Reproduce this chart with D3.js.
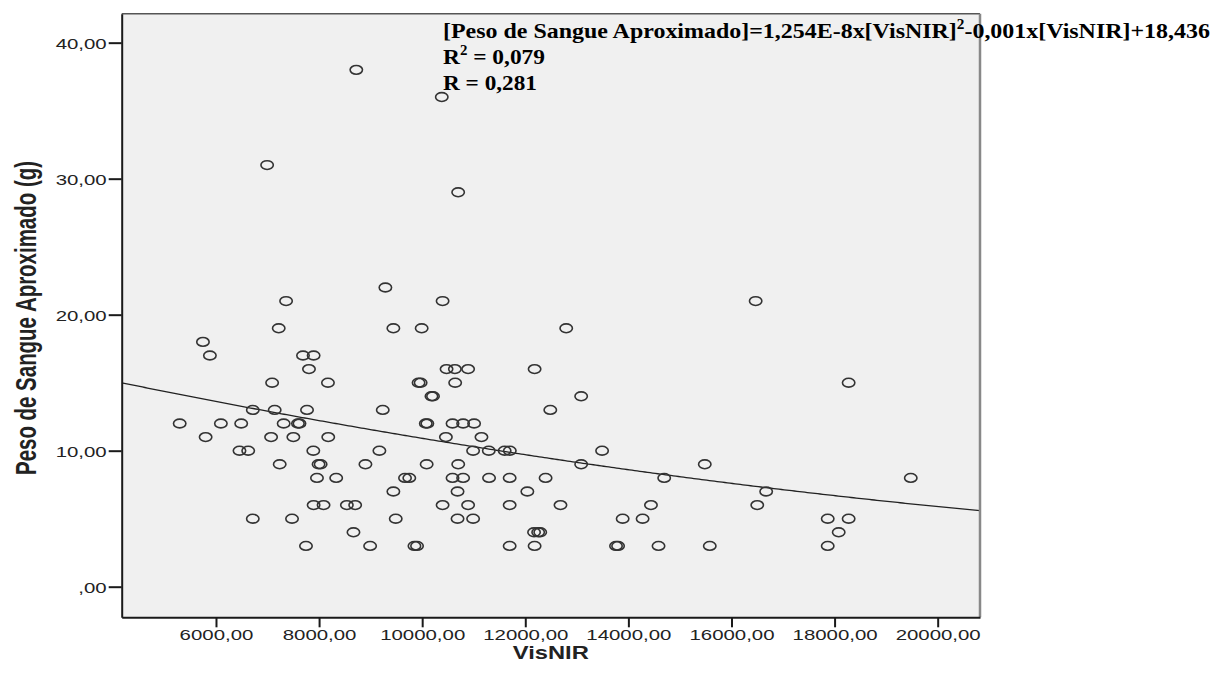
<!DOCTYPE html>
<html>
<head>
<meta charset="utf-8">
<script src="https://cdn.jsdelivr.net/npm/d3@7.9.0/dist/d3.min.js"></script>
<style>
  body { margin: 0; background: #fff; }
  svg { display: block; }
</style>
</head>
<body>
<svg id="chart" width="1217" height="677"></svg>
<script>
// VisNIR value of each sample (x)
const visNIR = [
  8722, 10380, 6992, 10698, 9286,
  7360, 10396, 16469,
  7217, 9441, 9990, 12794,
  5747,
  5882, 7688, 7894,
  7804, 10473, 10634, 10891, 12181,
  7089, 8172, 9930, 9970, 10640, 18273,
  10180, 10210, 13084,
  6714, 7139, 7766, 9235, 12485,
  5296, 6095, 6489, 7313, 7590, 7620, 10070, 10100, 10589, 10794, 11007,
  5799, 7069, 7501, 8178, 10460, 11150,
  6456, 6625, 7888, 9170, 10988, 11292, 11600, 11700, 13490,
  7236, 7990, 8030, 8899, 10087, 10699, 13084, 15482,
  7959, 8332, 9667, 9750, 10589, 10794, 11297, 11697, 12394, 14695, 19478,
  9441, 10686, 12040, 16673,
  7894, 8087, 8539, 8700, 10396, 10891, 11697, 12683, 14438, 16500,
  6714, 7475, 9487, 10686, 10988, 13889, 14276, 17867, 18273,
  8667, 12170, 12250, 12290, 18080,
  7746, 8990, 9850, 9900, 11697, 12181, 13760, 13800, 14585, 15579, 17867
];
// matching blood weight (g)
const pesoSangue = [
  38, 36, 31, 29, 22,
  21, 21, 21,
  19, 19, 19, 19,
  18,
  17, 17, 17,
  16, 16, 16, 16, 16,
  15, 15, 15, 15, 15, 15,
  14, 14, 14,
  13, 13, 13, 13, 13,
  12, 12, 12, 12, 12, 12, 12, 12, 12, 12, 12,
  11, 11, 11, 11, 11, 11,
  10, 10, 10, 10, 10, 10, 10, 10, 10,
  9, 9, 9, 9, 9, 9, 9, 9,
  8, 8, 8, 8, 8, 8, 8, 8, 8, 8, 8,
  7, 7, 7, 7,
  6, 6, 6, 6, 6, 6, 6, 6, 6, 6,
  5, 5, 5, 5, 5, 5, 5, 5, 5,
  4, 4, 4, 4, 4,
  3, 3, 3, 3, 3, 3, 3, 3, 3, 3, 3
];

const xTicks = [6000, 8000, 10000, 12000, 14000, 16000, 18000, 20000];
const yTicks = [0, 10, 20, 30, 40];
// quadratic fit: c + b*x + a*x^2
const fitCoef = [18.436, -0.000878, 1.254e-8];

const svg = d3.select('#chart');
const plot = { left: 121.7, right: 980, top: 13.7, bottom: 617.3 };

const x = d3.scaleLinear().domain([4171, 20821]).range([plot.left, plot.right]);
const y = d3.scaleLinear().domain([-2.25, 42.13]).range([plot.bottom, plot.top]);

const fmt = d => d === 0 ? ',00' : d3.format('.2f')(d).replace('.', ',');

// background
svg.append('rect')
  .attr('x', plot.left).attr('y', plot.top)
  .attr('width', plot.right - plot.left).attr('height', plot.bottom - plot.top)
  .attr('fill', '#f0f0f0');

svg.append('clipPath').attr('id', 'clip')
  .append('rect')
  .attr('x', plot.left).attr('y', plot.top)
  .attr('width', plot.right - plot.left).attr('height', plot.bottom - plot.top);

// fit line
const xs = d3.range(4171, 20822, 50);
const line = d3.line()
  .x(d => x(d))
  .y(d => y(fitCoef[0] + fitCoef[1] * d + fitCoef[2] * d * d));
svg.append('path')
  .datum(xs)
  .attr('clip-path', 'url(#clip)')
  .attr('d', line)
  .attr('fill', 'none')
  .attr('stroke', '#222')
  .attr('stroke-width', 1.3);

// points
svg.append('g')
  .selectAll('ellipse')
  .data(visNIR.map((v, i) => [v, pesoSangue[i]]))
  .join('ellipse')
  .attr('cx', d => x(d[0]))
  .attr('cy', d => y(d[1]))
  .attr('rx', 6.2)
  .attr('ry', 4.4)
  .attr('fill', 'none')
  .attr('stroke', '#333')
  .attr('stroke-width', 1.6);

// frame: top and right gray, left and bottom dark
svg.append('line')
  .attr('x1', plot.left).attr('x2', plot.right)
  .attr('y1', plot.top).attr('y2', plot.top)
  .attr('stroke', '#555').attr('stroke-width', 1.5);
svg.append('line')
  .attr('x1', plot.right).attr('x2', plot.right)
  .attr('y1', plot.top).attr('y2', plot.bottom)
  .attr('stroke', '#888').attr('stroke-width', 2.5);

// axes
const xAxis = svg.append('g')
  .attr('transform', `translate(0,${plot.bottom})`)
  .call(d3.axisBottom(x).tickValues(xTicks).tickFormat(fmt).tickSize(10).tickPadding(3).tickSizeOuter(0));
const yAxis = svg.append('g')
  .attr('transform', `translate(${plot.left},0)`)
  .call(d3.axisLeft(y).tickValues(yTicks).tickFormat(fmt).tickSize(13).tickPadding(2).tickSizeOuter(0));

[xAxis, yAxis].forEach(ax => {
  ax.select('.domain')
    .attr('stroke', '#1a1a1a').attr('stroke-width', 2);
  ax.selectAll('.tick line')
    .attr('stroke', '#1a1a1a').attr('stroke-width', 2);
  ax.selectAll('.tick text')
    .attr('font-family', 'Liberation Sans, Arial, sans-serif')
    .attr('font-size', 15)
    .attr('fill', '#222')
    .each(function () {
      const w = this.getComputedTextLength();
      d3.select(this).attr('textLength', w * 1.36).attr('lengthAdjust', 'spacingAndGlyphs');
    });
});
yAxis.selectAll('.tick text').attr('dy', '0.36em');
xAxis.selectAll('.tick text').attr('dy', '0.68em');

// axis titles
svg.append('text')
  .attr('x', (plot.left + plot.right) / 2)
  .attr('y', 659)
  .attr('text-anchor', 'middle')
  .attr('font-family', 'Liberation Sans, Arial, sans-serif')
  .attr('font-weight', 'bold')
  .attr('font-size', 18)
  .attr('fill', '#222')
  .attr('textLength', 76)
  .attr('lengthAdjust', 'spacingAndGlyphs')
  .text('VisNIR');

svg.append('text')
  .attr('transform', 'translate(36,318) rotate(-90) scale(1,1.5)')
  .attr('text-anchor', 'middle')
  .attr('font-family', 'Liberation Sans, Arial, sans-serif')
  .attr('font-weight', 'bold')
  .attr('font-size', 20)
  .attr('fill', '#222')
  .attr('textLength', 314)
  .attr('lengthAdjust', 'spacingAndGlyphs')
  .text('Peso de Sangue Aproximado (g)');

// fit annotation
const ann = svg.append('g')
  .attr('font-family', 'Liberation Serif, Times New Roman, serif')
  .attr('font-weight', 'bold')
  .attr('font-size', 22)
  .attr('fill', '#000');

const l1 = ann.append('text').attr('x', 443).attr('y', 38)
  .attr('textLength', 767).attr('lengthAdjust', 'spacingAndGlyphs');
l1.append('tspan').text('[Peso de Sangue Aproximado]=1,254E-8x[VisNIR]');
l1.append('tspan').attr('font-size', 14).attr('dy', -9).text('2');
l1.append('tspan').attr('dy', 9).text('-0,001x[VisNIR]+18,436');

const l2 = ann.append('text').attr('x', 443).attr('y', 64)
  .attr('textLength', 102).attr('lengthAdjust', 'spacingAndGlyphs');
l2.append('tspan').text('R');
l2.append('tspan').attr('font-size', 14).attr('dy', -9).text('2');
l2.append('tspan').attr('dy', 9).text(' = 0,079');

ann.append('text').attr('x', 443).attr('y', 90)
  .attr('textLength', 94).attr('lengthAdjust', 'spacingAndGlyphs')
  .text('R = 0,281');
</script>
</body>
</html>
